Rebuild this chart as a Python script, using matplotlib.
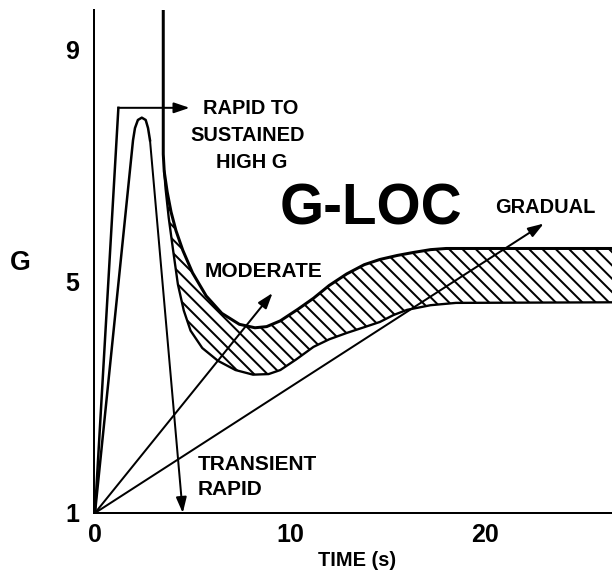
import numpy as np
import matplotlib
matplotlib.use("Agg")
import matplotlib.pyplot as plt

plt.rcParams['font.family'] = ['Liberation Sans', 'DejaVu Sans']
plt.rcParams['hatch.linewidth'] = 1.2

# ---- data (time in s, G) ----
x_ticks = [0, 10, 20]
y_ticks = [1, 5, 9]

# Rapid to sustained high G
rapid_t = [0.0, 1.2, 4.85]
rapid_g = [1.0, 8.0, 8.0]

# Transient rapid
trans_t = [0.0, 1.95, 2.05, 2.2, 2.4, 2.6, 2.72, 2.82, 4.5]
trans_g = [1.0, 7.44, 7.65, 7.79, 7.83, 7.79, 7.65, 7.44, 1.0]

# Moderate
mod_t = [0.0, 9.1]
mod_g = [1.0, 4.8]

# Gradual
grad_t = [0.0, 23.0]
grad_g = [1.0, 6.0]

# G-LOC band: upper boundary (starts with vertical part)
upper_t = [3.5, 3.5, 3.55, 3.7, 3.9, 4.15, 4.5, 5.0, 5.7, 6.5, 7.4, 8.2, 8.8,
           9.5, 10.4, 11.2, 12.0, 12.9, 13.8, 14.6, 15.5, 16.3, 17.2, 18.0, 26.6]
upper_g = [9.7, 7.2, 6.9, 6.55, 6.2, 5.88, 5.54, 5.15, 4.75, 4.45, 4.26, 4.2, 4.22,
           4.32, 4.52, 4.71, 4.93, 5.13, 5.29, 5.38, 5.45, 5.5, 5.55, 5.57, 5.57]
# lower boundary
lower_t = [3.55, 3.62, 3.78, 4.0, 4.25, 4.55, 4.9, 5.5, 6.3, 7.2, 8.1, 8.9, 9.5,
           10.3, 11.2, 12.0, 12.9, 13.8, 14.6, 15.3, 16.0, 17.2, 18.5, 26.6]
lower_g = [6.9, 6.6, 6.1, 5.55, 4.95, 4.5, 4.15, 3.85, 3.63, 3.47, 3.39, 3.4, 3.47,
           3.65, 3.87, 4.0, 4.11, 4.21, 4.3, 4.42, 4.51, 4.59, 4.63, 4.64]

W, H, DPI = 612, 571, 120
fig = plt.figure(figsize=(W / DPI, H / DPI), dpi=DPI)
ax = fig.add_axes([94 / W, 58 / H, 518 / W, 503 / H])
ax.set_xlim(-0.05, 26.5)
ax.set_ylim(1, 9.69)

for s in ['top', 'right']:
    ax.spines[s].set_visible(False)
for s in ['left', 'bottom']:
    ax.spines[s].set_linewidth(1.2)

ax.set_xticks(x_ticks)
ax.set_xticklabels([str(v) for v in x_ticks], fontsize=15, fontweight='bold')
ax.set_yticks(y_ticks)
ax.set_yticklabels([str(v) for v in y_ticks], fontsize=15, fontweight='bold')
ax.tick_params(axis='x', length=0, pad=6)
ax.tick_params(axis='y', length=0, pad=9)

lw = 1.5
arrow_kw = dict(arrowstyle='-|>,head_length=0.65,head_width=0.22',
                color='black', lw=1.2, mutation_scale=12,
                shrinkA=0, shrinkB=0)

# G-LOC hatched band
band_t = np.r_[upper_t[2:], lower_t[::-1]]
band_g = np.r_[upper_g[2:], lower_g[::-1]]
ax.fill(band_t, band_g, facecolor='none', edgecolor='black', hatch='\\\\\\',
        linewidth=0)
ax.plot(upper_t, upper_g, color='black', lw=1.8, solid_capstyle='butt')
ax.plot(lower_t, lower_g, color='black', lw=1.4)

# Rapid to sustained
ax.plot(rapid_t[:-1], rapid_g[:-1], color='black', lw=lw)
ax.annotate('', xy=(rapid_t[-1], rapid_g[-1]), xytext=(rapid_t[-2], rapid_g[-2]),
            arrowprops=arrow_kw)

# Transient rapid
ax.plot(trans_t[:-1], trans_g[:-1], color='black', lw=lw)
ax.annotate('', xy=(trans_t[-1], trans_g[-1]), xytext=(trans_t[-2], trans_g[-2]),
            arrowprops=arrow_kw)

# Moderate
ax.annotate('', xy=(mod_t[-1], mod_g[-1]), xytext=(mod_t[0], mod_g[0]),
            arrowprops=arrow_kw)
# Gradual
ax.annotate('', xy=(grad_t[-1], grad_g[-1]), xytext=(grad_t[0], grad_g[0]),
            arrowprops=arrow_kw)

tk = dict(fontweight='bold', color='black')
ax.text(8.0, 7.99, 'RAPID TO', fontsize=12, ha='center', va='center', **tk)
ax.text(7.85, 7.53, 'SUSTAINED', fontsize=12, ha='center', va='center', **tk)
ax.text(8.05, 7.06, 'HIGH G', fontsize=12, ha='center', va='center', **tk)
ax.text(14.15, 6.24, 'G-LOC', fontsize=34, ha='center', va='center', **tk)
ax.text(23.08, 6.28, 'GRADUAL', fontsize=12, ha='center', va='center', **tk)
ax.text(8.62, 5.18, 'MODERATE', fontsize=12.5, ha='center', va='center', **tk)
ax.text(5.28, 1.83, 'TRANSIENT', fontsize=12.5, ha='left', va='center', **tk)
ax.text(5.28, 1.41, 'RAPID', fontsize=12.5, ha='left', va='center', **tk)

fig.text(357 / W, 1 - 561 / H, 'TIME (s)', fontsize=12, ha='center', va='center', **tk)
fig.text(20 / W, 1 - 263 / H, 'G', fontsize=16, ha='center', va='center', **tk)

fig.savefig('out.png', dpi=DPI)
